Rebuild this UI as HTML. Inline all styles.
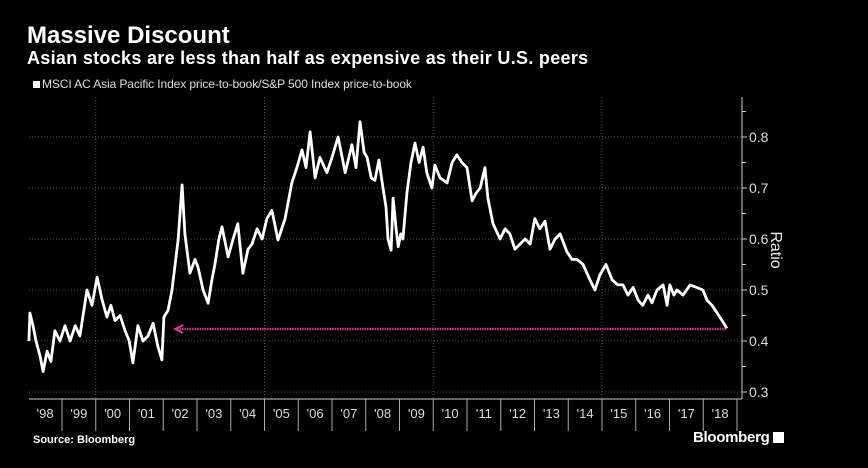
<!DOCTYPE html>
<html><head><meta charset="utf-8"><style>
body{margin:0;background:#000;}
#wrap{position:relative;width:868px;height:468px;background:#000;overflow:hidden;font-family:"Liberation Sans",sans-serif;color:#fff;}
.t{position:absolute;white-space:nowrap;}
</style></head><body>
<div id="wrap">
<div class="t" style="left:27px;top:22px;font-size:24px;font-weight:bold;">Massive Discount</div>
<div class="t" style="left:27px;top:48px;font-size:18px;font-weight:bold;letter-spacing:0.3px;">Asian stocks are less than half as expensive as their U.S. peers</div>
<div class="t" style="left:33px;top:77px;font-size:12px;color:#ddd;letter-spacing:-0.1px;"><span style="display:inline-block;width:7px;height:7px;background:#fff;margin-right:2px;"></span>MSCI AC Asia Pacific Index price-to-book/S&amp;P 500 Index price-to-book</div>
<svg id="chart" width="868" height="468" style="position:absolute;left:0;top:0"></svg>
<div class="t" style="left:33px;top:434px;font-size:11px;font-weight:bold;">Source: Bloomberg</div>
<div class="t" style="left:693px;top:429px;font-size:15px;font-weight:bold;letter-spacing:-0.3px;">Bloomberg <span style="display:inline-block;width:11px;height:11px;background:#fff;vertical-align:-1px;"></span></div>
</div>
<script>
const years=[1998.02,1998.05,1998.14,1998.23,1998.35,1998.44,1998.56,1998.67,1998.79,1998.94,1999.09,1999.24,1999.39,1999.53,1999.74,1999.89,2000.04,2000.19,2000.33,2000.45,2000.57,2000.72,2000.87,2000.99,2001.10,2001.25,2001.40,2001.55,2001.70,2001.84,2001.96,2002.02,2002.14,2002.26,2002.35,2002.44,2002.56,2002.64,2002.79,2002.94,2003.03,2003.18,2003.33,2003.44,2003.53,2003.65,2003.74,2003.92,2004.07,2004.21,2004.36,2004.51,2004.63,2004.78,2004.93,2005.07,2005.22,2005.40,2005.61,2005.81,2005.96,2006.11,2006.23,2006.35,2006.50,2006.64,2006.85,2007.00,2007.18,2007.39,2007.59,2007.71,2007.83,2007.95,2008.04,2008.16,2008.27,2008.39,2008.51,2008.60,2008.66,2008.75,2008.81,2008.90,2008.96,2009.04,2009.10,2009.22,2009.34,2009.46,2009.58,2009.70,2009.81,2009.96,2010.05,2010.20,2010.41,2010.56,2010.70,2010.85,2011.00,2011.15,2011.27,2011.39,2011.53,2011.62,2011.77,2011.98,2012.13,2012.27,2012.42,2012.57,2012.72,2012.87,2013.01,2013.16,2013.31,2013.46,2013.61,2013.76,2013.96,2014.11,2014.26,2014.44,2014.64,2014.79,2014.94,2015.12,2015.30,2015.47,2015.62,2015.77,2015.92,2016.07,2016.21,2016.36,2016.48,2016.63,2016.81,2016.93,2017.01,2017.13,2017.22,2017.40,2017.61,2017.81,2017.99,2018.11,2018.26,2018.41,2018.56,2018.70];
const ratios=[0.40,0.455,0.43,0.40,0.37,0.34,0.38,0.36,0.42,0.40,0.43,0.40,0.43,0.41,0.50,0.47,0.525,0.48,0.447,0.47,0.44,0.45,0.42,0.40,0.357,0.43,0.40,0.41,0.435,0.39,0.363,0.447,0.46,0.50,0.55,0.598,0.706,0.61,0.533,0.56,0.545,0.50,0.474,0.52,0.55,0.60,0.624,0.565,0.60,0.63,0.533,0.58,0.59,0.62,0.60,0.64,0.656,0.598,0.64,0.71,0.74,0.775,0.74,0.81,0.72,0.76,0.73,0.76,0.80,0.73,0.785,0.74,0.83,0.77,0.76,0.72,0.715,0.755,0.70,0.663,0.60,0.578,0.68,0.62,0.585,0.61,0.60,0.69,0.75,0.788,0.75,0.78,0.73,0.70,0.745,0.72,0.71,0.75,0.765,0.75,0.74,0.675,0.69,0.70,0.74,0.68,0.63,0.60,0.62,0.61,0.58,0.59,0.60,0.59,0.64,0.62,0.635,0.58,0.60,0.61,0.575,0.56,0.56,0.55,0.52,0.50,0.53,0.55,0.52,0.51,0.51,0.49,0.505,0.48,0.47,0.49,0.475,0.50,0.51,0.47,0.51,0.49,0.50,0.49,0.51,0.505,0.50,0.48,0.47,0.455,0.44,0.425];
const yTicks=[0.3,0.4,0.5,0.6,0.7,0.8];
const yearLabels=["'98","'99","'00","'01","'02","'03","'04","'05","'06","'07","'08","'09","'10","'11","'12","'13","'14","'15","'16","'17","'18"];
const refLevel=0.4235;
const refStart=2002.35;

const svg=document.getElementById('chart');
const NS='http://www.w3.org/2000/svg';
const X=t=>62+(t-1999)*33.75;
const Y=v=>137+(0.8-v)*510;
function mk(tag,attrs,parent){const e=document.createElementNS(NS,tag);for(const k in attrs)e.setAttribute(k,attrs[k]);(parent||svg).appendChild(e);return e;}
const left=29,right=742,bottom=399;
yTicks.forEach(v=>{
  const g=mk('line',{x1:left,x2:right,y1:Y(v),y2:Y(v),stroke:'#555','stroke-width':1,'stroke-dasharray':'1,2'});
  
  
  const tk=mk('line',{x1:right,x2:right+5,y1:Y(v),y2:Y(v),stroke:'#ccc','stroke-width':1});
  
  
  const tx=mk('text',{x:right+7,y:Y(v)+5,fill:'#ddd','font-size':14,'font-family':'Liberation Sans, sans-serif'});
  tx.textContent=v.toFixed(1);
  
  
});
for(let i=0;i<yTicks.length-1;i++){
  const m=(yTicks[i]+yTicks[i+1])/2;
  const mt=mk('line',{x1:right,x2:right+4,y1:Y(m),y2:Y(m),stroke:'#ccc','stroke-width':1});
  
  
}
const mt2=mk('line',{x1:right,x2:right+4,y1:Y(0.85),y2:Y(0.85),stroke:'#ccc','stroke-width':1});


[2000,2005,2010,2015].forEach(yr=>{
  const g=mk('line',{x1:X(yr),x2:X(yr),y1:97,y2:bottom,stroke:'#555','stroke-width':1,'stroke-dasharray':'1,2'});
  
  
});
const ya=mk('line',{x1:right,x2:right,y1:97,y2:bottom,stroke:'#ccc','stroke-width':1});


const xa=mk('line',{x1:left,x2:right,y1:bottom,y2:bottom,stroke:'#ccc','stroke-width':1});


yearLabels.forEach((lab,i)=>{
  const yr=1998+i;
  if(i>0){const tk=mk('line',{x1:X(yr),x2:X(yr),y1:bottom,y2:bottom+32,stroke:'#aaa','stroke-width':1});
  
  }
  const tx=mk('text',{x:X(yr+0.5),y:bottom+19,fill:'#ddd','font-size':13,'text-anchor':'middle','font-family':'Liberation Sans, sans-serif'});
  tx.textContent=lab;
  
  
});
const tkEnd=mk('line',{x1:X(2019),x2:X(2019),y1:bottom,y2:bottom+32,stroke:'#aaa','stroke-width':1});


const yt=mk('text',{x:0,y:0,fill:'#eee','font-size':16,'text-anchor':'middle','font-family':'Liberation Sans, sans-serif',transform:'translate(771,250) rotate(90)'});
yt.textContent='Ratio';


const lastX=X(years[years.length-1]);
const rl=mk('line',{x1:X(refStart)+2,x2:lastX,y1:Y(refLevel),y2:Y(refLevel),stroke:'#e0309a','stroke-width':2.5,'stroke-dasharray':'1.5,1'});


const ah=mk('path',{d:`M${X(refStart)+8},${Y(refLevel)-4} L${X(refStart)},${Y(refLevel)} L${X(refStart)+8},${Y(refLevel)+4}`,stroke:'#e0309a','stroke-width':2,fill:'none'});


const d=years.map((t,i)=>(i?'L':'M')+X(t).toFixed(1)+','+Y(ratios[i]).toFixed(1)).join(' ');
const ln=mk('path',{d:d,stroke:'#fff','stroke-width':2.8,fill:'none','stroke-linejoin':'round'});


</script>
</body></html>
